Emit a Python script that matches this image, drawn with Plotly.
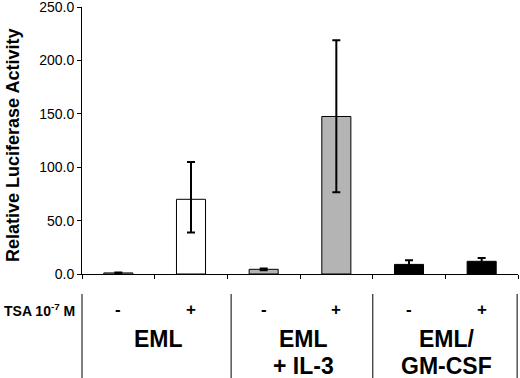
import plotly.graph_objects as go

categories = ["EML -", "EML +", "EML + IL-3 -", "EML + IL-3 +", "EML/GM-CSF -", "EML/GM-CSF +"]
values = [1.0, 70.0, 4.4, 147.6, 9.0, 11.9]
err_plus = [0.3, 35.0, 0.8, 71.5, 3.8, 3.1]
err_minus = [0.3, 31.0, 0.8, 71.0, 4.0, 3.0]
fills = ["#ffffff", "#ffffff", "#b4b4b4", "#b4b4b4", "#000000", "#000000"]
tsa_signs = ["-", "+", "-", "+", "-", "+"]
group_line1 = ["EML", "EML", "EML/"]
group_line2 = ["", "+ IL-3", "GM-CSF"]
group_centers = [0.55, 2.55, 4.52]
y_ticks = [0, 50, 100, 150, 200, 250]
y_tick_text = ["0.0", "50.0", "100.0", "150.0", "200.0", "250.0"]

FONT = "Liberation Sans, Arial, sans-serif"
PH = 267.0  # plot height in px

fig = go.Figure()
fig.add_trace(go.Bar(
    x=categories, y=values, width=0.4,
    marker=dict(color=fills, line=dict(color="#000000", width=1)),
    error_y=dict(type="data", symmetric=False, array=err_plus, arrayminus=err_minus,
                 color="#000000", thickness=2, width=4),
))

fig.update_layout(
    width=520, height=378,
    margin=dict(l=82, r=2, t=7, b=104, autoexpand=False),
    plot_bgcolor="white", paper_bgcolor="white",
    showlegend=False,
    font=dict(family=FONT, color="#000000"),
    bargap=0.6,
)
fig.update_yaxes(
    range=[0, 250.2], tickvals=y_ticks, ticktext=y_tick_text, automargin=False,
    ticks="outside", ticklen=4, tickcolor="#000", tickwidth=1,
    showline=True, linecolor="#000", linewidth=1, showgrid=False, zeroline=False,
    tickfont=dict(size=14, family=FONT), ticklabeloverflow="allow",
)
fig.update_xaxes(
    type="category", range=[-0.5, 5.5], automargin=False,
    showticklabels=False, ticks="outside", tickson="boundaries", ticklen=4,
    tickcolor="#000", showline=True, linecolor="#000", linewidth=1, showgrid=False,
)

# y-axis title
fig.add_annotation(x=(13 - 82) / 436, xref="paper", y=(274 - 146) / PH, yref="paper",
                   text="<b>Relative Luciferase Activity</b>", textangle=-90, showarrow=False,
                   xanchor="center", yanchor="middle", font=dict(size=18, family=FONT))

# TSA label
fig.add_annotation(x=0, xref="paper", xanchor="right", xshift=-5, y=-36 / PH, yref="paper",
                   yanchor="middle", text="<b>TSA 10<sup>-7</sup> M</b>", showarrow=False,
                   font=dict(size=14, family=FONT))
for cat, s in zip(categories, tsa_signs):
    fig.add_annotation(x=cat, xref="x", y=-36 / PH, yref="paper", yanchor="middle",
                       text=f"<b>{s}</b>", showarrow=False, font=dict(size=17, family=FONT))
for c, l1, l2 in zip(group_centers, group_line1, group_line2):
    fig.add_annotation(x=c, xref="x", y=-65 / PH, yref="paper", yanchor="middle",
                       text=f"<b>{l1}</b>", showarrow=False, font=dict(size=23, family=FONT))
    if l2:
        fig.add_annotation(x=c, xref="x", y=-92 / PH, yref="paper", yanchor="middle",
                           text=f"<b>{l2}</b>", showarrow=False, font=dict(size=23, family=FONT))

for xp in [0.0, 0.342, 0.667, 0.998]:
    fig.add_shape(type="line", xref="paper", yref="paper", x0=xp, x1=xp,
                  y0=-20 / PH, y1=-104 / PH, line=dict(color="#000", width=1))

fig.write_html("out.html", config={"displayModeBar": False},
               post_script="document.body.style.margin='0';document.body.style.padding='0';")
